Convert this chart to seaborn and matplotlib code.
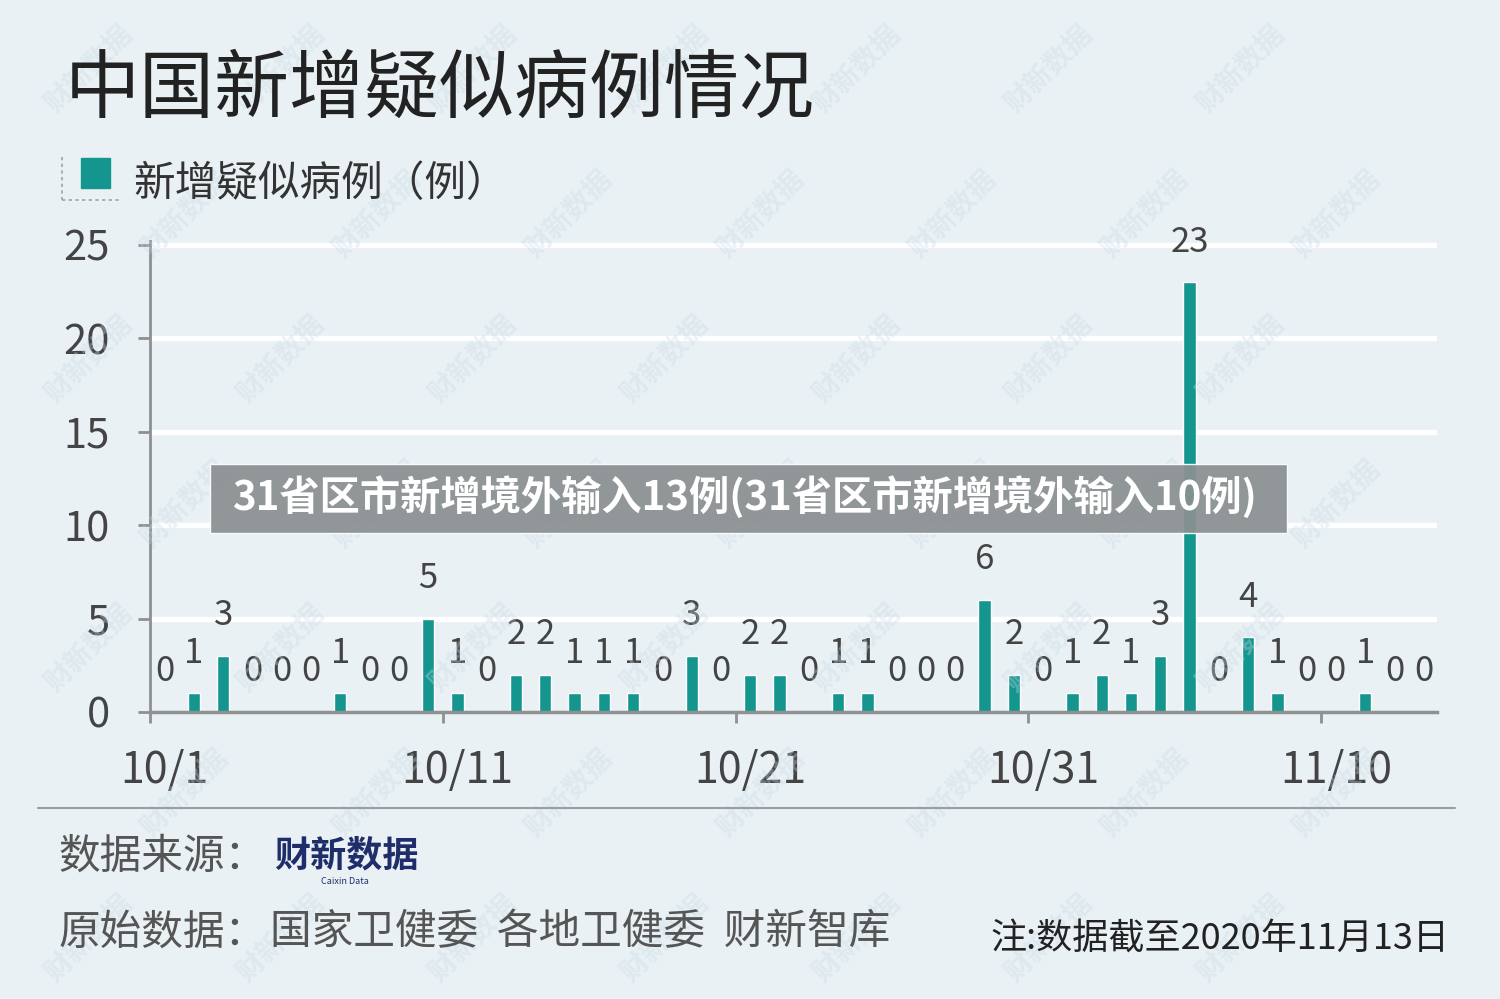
import matplotlib
matplotlib.use('Agg')
import matplotlib.pyplot as plt
import seaborn as sns
import pandas as pd
from matplotlib.patches import Rectangle
from matplotlib.lines import Line2D

# daily new suspected cases, 10/1 .. 11/13
dates = [f'10/{d}' for d in range(1, 32)] + [f'11/{d}' for d in range(1, 14)]
cases = [0, 1, 3, 0, 0, 0, 1, 0, 0, 5,
         1, 0, 2, 2, 1, 1, 1, 0, 3, 0,
         2, 2, 0, 1, 1, 0, 0, 0, 6, 2,
         0, 1, 2, 1, 3, 23, 0, 4, 1, 0,
         0, 1, 0, 0]
tick_labels = ['10/1', '10/11', '10/21', '10/31', '11/10']
y_ticks = [0, 5, 10, 15, 20, 25]

bg = '#e9f1f4'
teal = '#14968f'
axis_gray = '#8e9092'
text_dark = '#333333'

sns.set_style('white')
plt.rcParams['font.family'] = ['Noto Sans CJK SC', 'DejaVu Sans']

df = pd.DataFrame({'date': dates, 'cases': cases})

fig = plt.figure(figsize=(15, 9.99), dpi=100, facecolor=bg)
ax = fig.add_axes([0.1, 0.2873, 0.858, 0.4712])
ax.set_facecolor(bg)

# faint watermark, kept inside the canvas
for row in range(0, 7):
    for col in range(0, 8):
        x = 0.06 + col * 0.128 + (row % 2) * 0.064
        y = 0.93 - row * 0.145
        if x > 0.95:
            continue
        fig.text(x, y, '财新数据', rotation=45, fontsize=20, fontweight='bold',
                 color='#c9dbe6', alpha=0.35, ha='center', va='center', zorder=0)

for v in y_ticks[1:]:
    ax.axhline(v, color='white', lw=3.8, zorder=1)

sns.barplot(data=df, x='date', y='cases', color=teal, width=0.42,
            saturation=1, ax=ax, zorder=3)

for i, v in enumerate(cases):
    ax.annotate(str(v), (i, v), xytext=(0, 22), textcoords='offset points',
                ha='center', va='baseline', fontsize=25, color='#444444', zorder=4)

ax.set_xlim(-0.5, 43.45)
ax.set_ylim(0, 25.2)
ax.set_xlabel('')
ax.set_ylabel('')

ax.set_yticks(y_ticks)
ax.set_yticklabels([str(v) for v in y_ticks], fontsize=30, color='#444444')
ax.tick_params(axis='y', direction='out', length=9, width=2, color=axis_gray, pad=20, left=True)

ax.set_xticks([0, 10, 20, 30, 40])
ax.set_xticklabels(tick_labels, fontsize=31, color='#444444')
ax.set_xticks([-0.5, 9.5, 19.5, 29.5, 39.5], minor=True)
ax.tick_params(axis='x', which='major', length=0, pad=27)
ax.tick_params(axis='x', which='minor', direction='out', length=8, width=2, color=axis_gray, bottom=True)

for s in ['top', 'right']:
    ax.spines[s].set_visible(False)
ax.spines['left'].set_color(axis_gray)
ax.spines['left'].set_linewidth(2)
ax.spines['bottom'].set_color(axis_gray)
ax.spines['bottom'].set_linewidth(2.5)
ax.spines['bottom'].set_zorder(5)

# title and legend
fig.text(0.043, 0.910, '中国新增疑似病例情况', fontsize=54, color='#222222', va='center')
fig.patches.append(Rectangle((0.054, 0.812), 0.019, 0.03, transform=fig.transFigure,
                             color=teal, zorder=3))
fig.lines.append(Line2D([0.041, 0.041], [0.843, 0.800], transform=fig.transFigure,
                        color='#a0a4a6', lw=1.2, ls=(0, (2, 2))))
fig.lines.append(Line2D([0.041, 0.080], [0.800, 0.800], transform=fig.transFigure,
                        color='#a0a4a6', lw=1.2, ls=(0, (2, 2))))
fig.text(0.089, 0.815, '新增疑似病例（例）', fontsize=30, color=text_dark, va='center')

# separator
fig.lines.append(Line2D([0.025, 0.97], [0.191, 0.191], transform=fig.transFigure,
                        color='#9a9ea0', lw=1.5))

# footer
fig.text(0.039, 0.142, '数据来源：', fontsize=30, color='#555555', va='center')
fig.text(0.183, 0.143, '财新数据', fontsize=26, fontweight='heavy', color='#1f2d6b', va='center')
fig.text(0.230, 0.118, 'Caixin Data', fontsize=6.5, color='#1f2d6b', ha='center', va='center')
fig.text(0.039, 0.066, '原始数据：', fontsize=30, color='#555555', va='center')
fig.text(0.180, 0.066, '国家卫健委  各地卫健委  财新智库', fontsize=30, color='#555555', va='center')
fig.text(0.966, 0.059, '注:数据截至2020年11月13日', fontsize=26, color='#222222', ha='right', va='center')

# overlay banner
fig.patches.append(Rectangle((0.140, 0.466), 0.718, 0.070, transform=fig.transFigure,
                             facecolor='#8a9092', alpha=0.93, zorder=10))
fig.text(0.496, 0.502, '31省区市新增境外输入13例(31省区市新增境外输入10例)', fontsize=29,
         fontweight='bold', color='white', ha='center', va='center', zorder=11)

fig.savefig('out.png', dpi=100, facecolor=bg)
